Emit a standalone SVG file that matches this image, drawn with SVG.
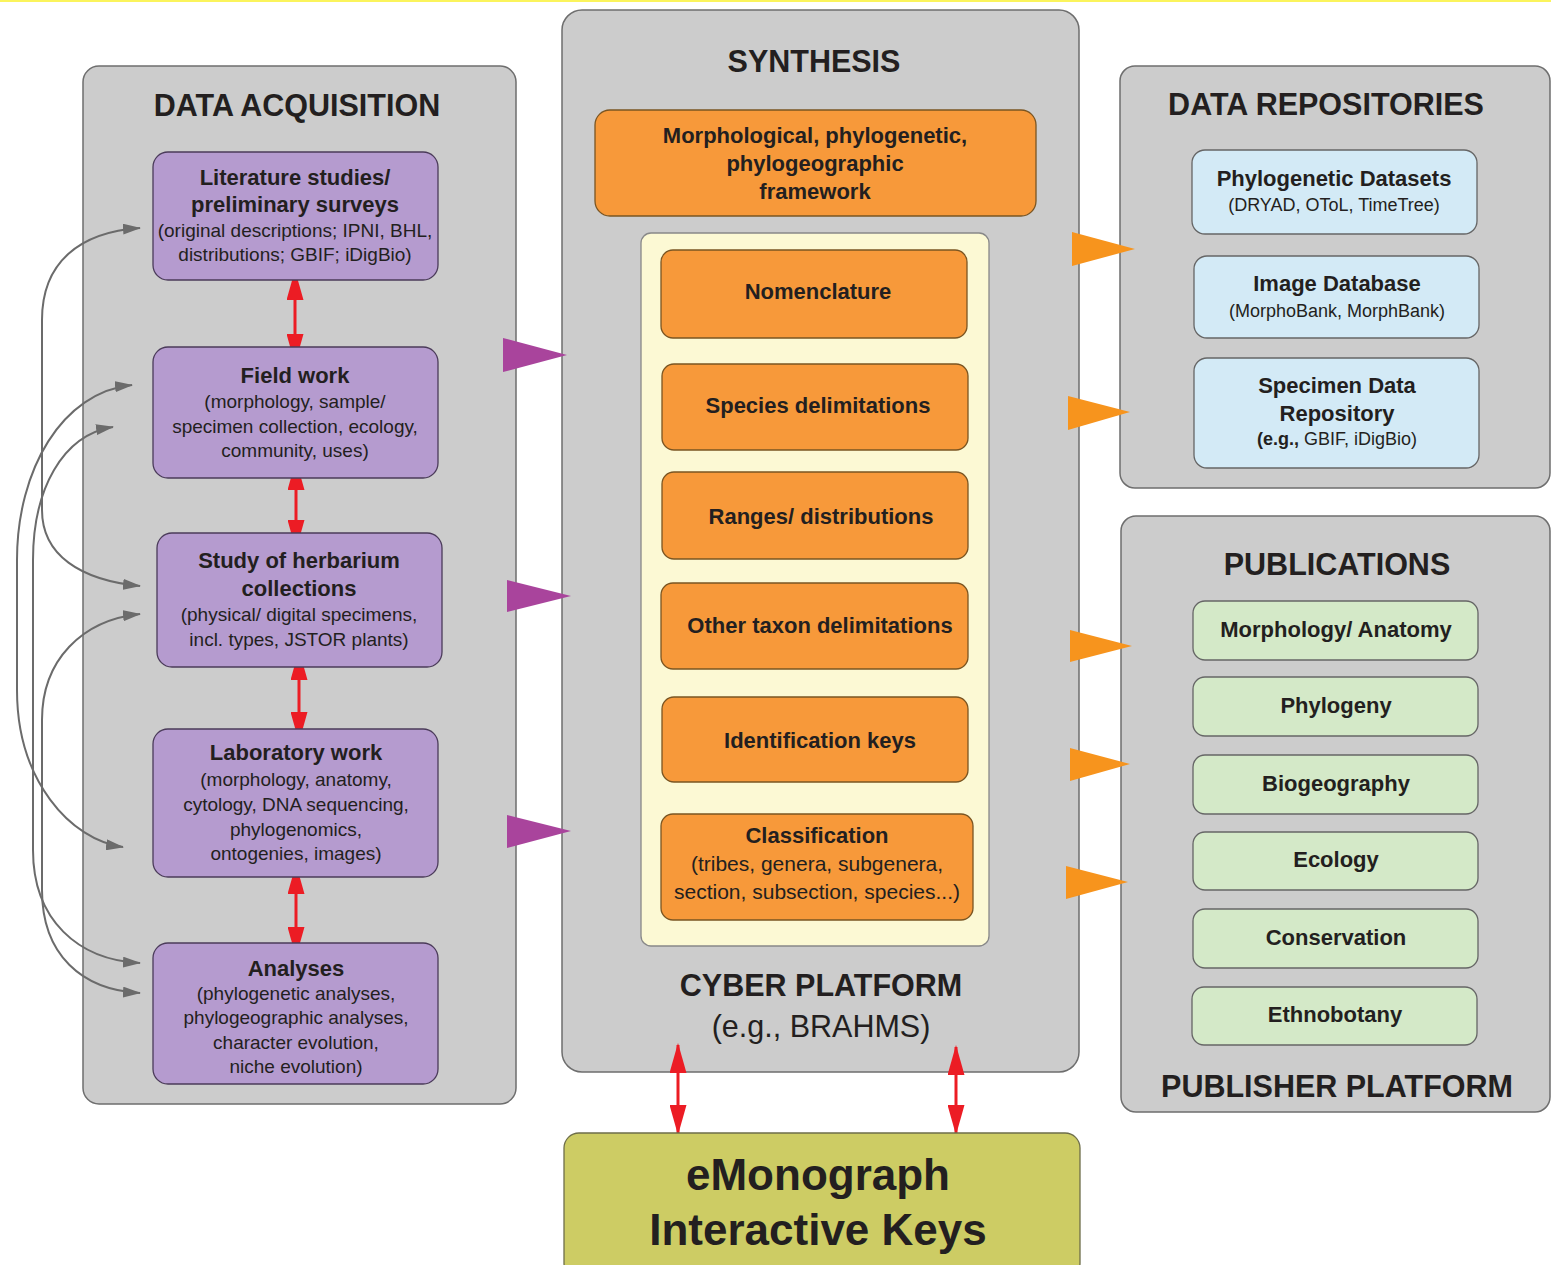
<svg xmlns="http://www.w3.org/2000/svg" width="1551" height="1265" viewBox="0 0 1551 1265">
<defs>
<style>
text{font-family:"Liberation Sans",Arial,sans-serif;fill:#231f20;text-anchor:middle}
.t{font-size:30.5px;font-weight:bold}
.b{font-size:22px;font-weight:bold}
.r{font-size:19px}
.rs{font-size:18px}
.rl{font-size:21px}
.panel{fill:#cccccc;stroke:#6e6e6e;stroke-width:1.5}
.pur{fill:#b59bcf;stroke:#4b3b5a;stroke-width:1.3}
.org{fill:#f7993a;stroke:#7a5522;stroke-width:1.3}
.blu{fill:#d3eaf6;stroke:#666;stroke-width:1.3}
.grn{fill:#d4e9c8;stroke:#666;stroke-width:1.3}
.red{stroke:#ec1c24;stroke-width:3;fill:none;marker-start:url(#rh);marker-end:url(#rh)}
.gry{stroke:#6b6b6b;stroke-width:2;fill:none;marker-start:url(#gh);marker-end:url(#gh)}
.wp{fill:#a9449c}
.wo{fill:#f7941d}
</style>
<marker id="rh" viewBox="0 0 30 17" refX="28" refY="8.5" markerWidth="30" markerHeight="17" markerUnits="userSpaceOnUse" orient="auto-start-reverse"><path d="M0,0 L30,8.5 L0,17 Z" fill="#ec1c24"/></marker>
<marker id="gh" viewBox="0 0 18 11" refX="17" refY="5.5" markerWidth="18" markerHeight="11" markerUnits="userSpaceOnUse" orient="auto-start-reverse"><path d="M0,0 L18,5.5 L0,11 Z" fill="#6b6b6b"/></marker>
</defs>
<rect x="0" y="0" width="1551" height="1265" fill="#ffffff"/>
<rect x="0" y="0" width="1551" height="2" fill="#fbf45c"/>

<g id="panel-data-acquisition">
<rect class="panel" x="83" y="66" width="433" height="1038" rx="16"/>
<text class="t" x="297" y="116">DATA ACQUISITION</text>
</g>
<g id="panel-synthesis">
<rect class="panel" x="562" y="10" width="517" height="1062" rx="20"/>
<text class="t" x="814" y="72">SYNTHESIS</text>
<text class="t" x="821" y="996">CYBER PLATFORM</text>
<text class="t" x="821" y="1037" style="font-weight:normal">(e.g., BRAHMS)</text>
</g>
<g id="panel-data-repositories">
<rect class="panel" x="1120" y="66" width="430" height="422" rx="15"/>
<text class="t" x="1326" y="115">DATA REPOSITORIES</text>
</g>
<g id="panel-publications">
<rect class="panel" x="1121" y="516" width="429" height="596" rx="15"/>
<text class="t" x="1337" y="575">PUBLICATIONS</text>
<text class="t" x="1337" y="1097">PUBLISHER PLATFORM</text>
</g>

<g id="connectors">
<path class="gry" d="M140,228 C80,232 42,262 42,320 L42,510 C42,555 80,580 140,586"/>
<path class="gry" d="M132,385 C62,392 17,470 17,560 L17,690 C17,780 70,840 123,847"/>
<path class="gry" d="M113,427 C62,435 33,490 33,560 L33,850 C33,920 78,960 140,963"/>
<path class="gry" d="M140,614 C82,620 42,660 42,720 L42,890 C42,955 82,990 140,993"/>
<path class="red" d="M295,272 L295,362"/>
<path class="red" d="M296,462 L296,548"/>
<path class="red" d="M299,652 L299,740"/>
<path class="red" d="M296,866 L296,955"/>
<path class="red" d="M678,1045 L678,1133"/>
<path class="red" d="M956,1047 L956,1133"/>
<polygon class="wp" points="503,338 503,372 567,355"/>
<polygon class="wp" points="507,580 507,612 571,596"/>
<polygon class="wp" points="507,815 507,848 571,831"/>
<polygon class="wo" points="1072,232 1072,266 1135,249"/>
<polygon class="wo" points="1068,396 1068,430 1130,412"/>
<polygon class="wo" points="1070,630 1070,662 1132,646"/>
<polygon class="wo" points="1070,748 1070,781 1130,764"/>
<polygon class="wo" points="1066,866 1066,899 1128,882"/>
</g>

<g id="node-literature">
<rect class="pur" x="153" y="152" width="285" height="128" rx="15"/>
<text class="b" x="295" y="185">Literature studies/</text>
<text class="b" x="295" y="212">preliminary surveys</text>
<text class="r" x="295" y="237">(original descriptions; IPNI, BHL,</text>
<text class="r" x="295" y="261">distributions; GBIF; iDigBio)</text>
</g>
<g id="node-field-work">
<rect class="pur" x="153" y="347" width="285" height="131" rx="15"/>
<text class="b" x="295" y="383">Field work</text>
<text class="r" x="295" y="408">(morphology, sample/</text>
<text class="r" x="295" y="433">specimen collection, ecology,</text>
<text class="r" x="295" y="457">community, uses)</text>
</g>
<g id="node-herbarium">
<rect class="pur" x="157" y="533" width="285" height="134" rx="15"/>
<text class="b" x="299" y="568">Study of herbarium</text>
<text class="b" x="299" y="596">collections</text>
<text class="r" x="299" y="621">(physical/ digital specimens,</text>
<text class="r" x="299" y="646">incl. types, JSTOR plants)</text>
</g>
<g id="node-laboratory">
<rect class="pur" x="153" y="729" width="285" height="148" rx="15"/>
<text class="b" x="296" y="760">Laboratory work</text>
<text class="r" x="296" y="786">(morphology, anatomy,</text>
<text class="r" x="296" y="811">cytology, DNA sequencing,</text>
<text class="r" x="296" y="836">phylogenomics,</text>
<text class="r" x="296" y="860">ontogenies, images)</text>
</g>
<g id="node-analyses">
<rect class="pur" x="153" y="943" width="285" height="141" rx="15"/>
<text class="b" x="296" y="976">Analyses</text>
<text class="r" x="296" y="1000">(phylogenetic analyses,</text>
<text class="r" x="296" y="1024">phylogeographic analyses,</text>
<text class="r" x="296" y="1049">character evolution,</text>
<text class="r" x="296" y="1073">niche evolution)</text>
</g>

<g id="node-framework">
<rect class="org" x="595" y="110" width="441" height="106" rx="15"/>
<text class="b" x="815" y="143">Morphological, phylogenetic,</text>
<text class="b" x="815" y="171">phylogeographic</text>
<text class="b" x="815" y="199">framework</text>
</g>
<g id="cyber-inner">
<rect x="641" y="233" width="348" height="713" rx="10" fill="#fcf9d4" stroke="#888" stroke-width="1.3"/>
</g>
<g id="node-nomenclature">
<rect class="org" x="661" y="250" width="306" height="88" rx="12"/>
<text class="b" x="818" y="299">Nomenclature</text>
</g>
<g id="node-species">
<rect class="org" x="662" y="364" width="306" height="86" rx="12"/>
<text class="b" x="818" y="413">Species delimitations</text>
</g>
<g id="node-ranges">
<rect class="org" x="662" y="472" width="306" height="87" rx="12"/>
<text class="b" x="821" y="524">Ranges/ distributions</text>
</g>
<g id="node-other-taxon">
<rect class="org" x="661" y="583" width="307" height="86" rx="12"/>
<text class="b" x="820" y="633">Other taxon delimitations</text>
</g>
<g id="node-keys">
<rect class="org" x="662" y="697" width="306" height="85" rx="12"/>
<text class="b" x="820" y="748">Identification keys</text>
</g>
<g id="node-classification">
<rect class="org" x="661" y="814" width="312" height="106" rx="12"/>
<text class="b" x="817" y="843">Classification</text>
<text class="rl" x="817" y="871">(tribes, genera, subgenera,</text>
<text class="rl" x="817" y="899">section, subsection, species...)</text>
</g>

<g id="node-emonograph">
<rect x="564" y="1133" width="516" height="145" rx="15" fill="#cdcc64" stroke="#6e6e4a" stroke-width="1.3"/>
<text x="818" y="1190" style="font-size:44px;font-weight:bold">eMonograph</text>
<text x="818" y="1245" style="font-size:44px;font-weight:bold">Interactive Keys</text>
</g>

<g id="node-phylo-datasets">
<rect class="blu" x="1192" y="150" width="285" height="84" rx="13"/>
<text class="b" x="1334" y="186">Phylogenetic Datasets</text>
<text class="rs" x="1334" y="211">(DRYAD, OToL, TimeTree)</text>
</g>
<g id="node-image-db">
<rect class="blu" x="1194" y="256" width="285" height="82" rx="13"/>
<text class="b" x="1337" y="291">Image Database</text>
<text class="rs" x="1337" y="317">(MorphoBank, MorphBank)</text>
</g>
<g id="node-specimen-repo">
<rect class="blu" x="1194" y="358" width="285" height="110" rx="13"/>
<text class="b" x="1337" y="393">Specimen Data</text>
<text class="b" x="1337" y="421">Repository</text>
<text class="rs" x="1337" y="445"><tspan font-weight="bold">(e.g.,</tspan> GBIF, iDigBio)</text>
</g>

<g id="node-morphology">
<rect class="grn" x="1193" y="601" width="285" height="59" rx="12"/>
<text class="b" x="1336" y="637">Morphology/ Anatomy</text>
</g>
<g id="node-phylogeny">
<rect class="grn" x="1193" y="677" width="285" height="59" rx="12"/>
<text class="b" x="1336" y="713">Phylogeny</text>
</g>
<g id="node-biogeography">
<rect class="grn" x="1193" y="755" width="285" height="59" rx="12"/>
<text class="b" x="1336" y="791">Biogeography</text>
</g>
<g id="node-ecology">
<rect class="grn" x="1193" y="832" width="285" height="58" rx="12"/>
<text class="b" x="1336" y="867">Ecology</text>
</g>
<g id="node-conservation">
<rect class="grn" x="1193" y="909" width="285" height="59" rx="12"/>
<text class="b" x="1336" y="945">Conservation</text>
</g>
<g id="node-ethnobotany">
<rect class="grn" x="1192" y="987" width="285" height="58" rx="12"/>
<text class="b" x="1335" y="1022">Ethnobotany</text>
</g>
</svg>
